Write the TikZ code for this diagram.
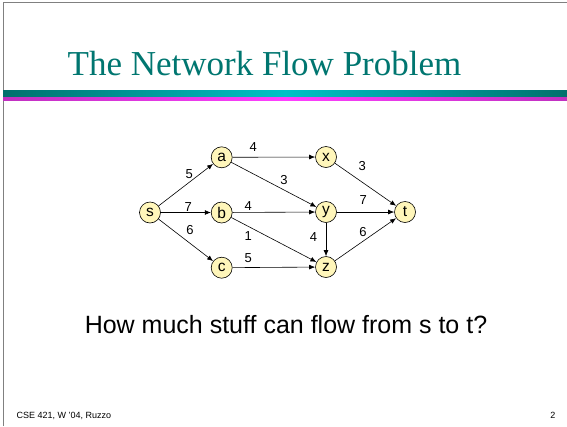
\documentclass[tikz,border=0pt]{standalone}
\usepackage{fontspec}
\setmainfont{Liberation Serif}
\setsansfont{Liberation Sans}
\usetikzlibrary{arrows.meta}

\definecolor{titleteal}{RGB}{0,118,112}
\definecolor{barteal}{RGB}{0,112,108}
\definecolor{barcyan}{RGB}{0,194,198}
\definecolor{barplum}{RGB}{192,48,192}
\definecolor{barpink}{RGB}{255,64,255}
\definecolor{nodefill}{RGB}{255,246,186}

\tikzset{
    vertex/.style={circle, draw, line width=0.6pt, fill=nodefill, minimum size=21pt,
        inner sep=0pt, font=\sffamily\fontsize{15.5}{17}\selectfont},
    flow/.style={-{Latex[length=6pt,width=4.8pt]}, line width=0.6pt},
    wt/.style={font=\sffamily\fontsize{13}{15}\selectfont, inner sep=1pt}
}

\begin{document}
\begin{tikzpicture}[x=1pt,y=-1pt]
            \useasboundingbox (0,0) rectangle (567,426);

            % slide frame and title bars
            \draw[gray, line width=1.3pt] (3.5,426) -- (3.5,2.5) -- (567,2.5);
            \shade[left color=barteal, right color=barteal, middle color=barcyan] (3,90) rectangle (567,96);
            \shade[left color=barplum, right color=barplum, middle color=barpink] (3,97) rectangle (567,100.5);

            \node[anchor=base, text=titleteal, font=\fontsize{35}{40}\selectfont] (title) at (264.5,75) {The Network Flow Problem};

            % the network
            \node[vertex] (s) at (150,212.5) {s};
            \node[vertex] (a) at (221.7,157.3) {a};
            \node[vertex] (b) at (221.7,212.5) {b};
            \node[vertex] (c) at (221.7,267.7) {c};
            \node[vertex] (x) at (326,157) {x};
            \node[vertex] (y) at (326,212) {y};
            \node[vertex] (z) at (326,267) {z};
            \node[vertex] (t) at (405,212) {t};

            \draw[flow] (s) -- node[wt, pos=.56, above=2pt] {5} (a);
            \draw[flow] (s) -- node[wt, pos=.55, above] {7} (b);
            \draw[flow] (s) -- node[wt, pos=.45, above right=2pt] {6} (c);
            \draw[flow] (a) -- node[wt, pos=.25, above=4.5pt] {4} (x);
            \draw[flow] (a) -- node[wt, pos=.55, above right=1pt] {3} (y);
            \draw[flow] (b) -- node[wt, pos=.19, above=1pt] {4} (y);
            \draw[flow] (b) -- node[wt, pos=.27, below left=1pt] {1} (z);
            \draw[flow] (c) -- node[wt, pos=.19, above=4pt] {5} (z);
            \draw[flow] (x) -- node[wt, pos=.3, above right=4pt] {3} (t);
            \draw[flow] (y) -- node[wt, pos=.46, above=6.5pt] {7} (t);
            \draw[flow] (y) -- node[wt, pos=.42, left=7.5pt] {4} (z);
            \draw[flow] (z) -- node[wt, pos=.54, above left] {6} (t);

            %\draw[red] (0,0) rectangle (567,426);
            \node[anchor=base, font=\sffamily\fontsize{25}{30}\selectfont] (question) at (286,333) {How much stuff can flow from s to t?};

            \node[anchor=base west, font=\sffamily\fontsize{9}{11}\selectfont] (footer) at (13,418) {CSE 421, W '04, Ruzzo};
            \node[anchor=base east, font=\sffamily\fontsize{9}{11}\selectfont] (pagenum) at (559,418) {2};
\end{tikzpicture}
\end{document}
